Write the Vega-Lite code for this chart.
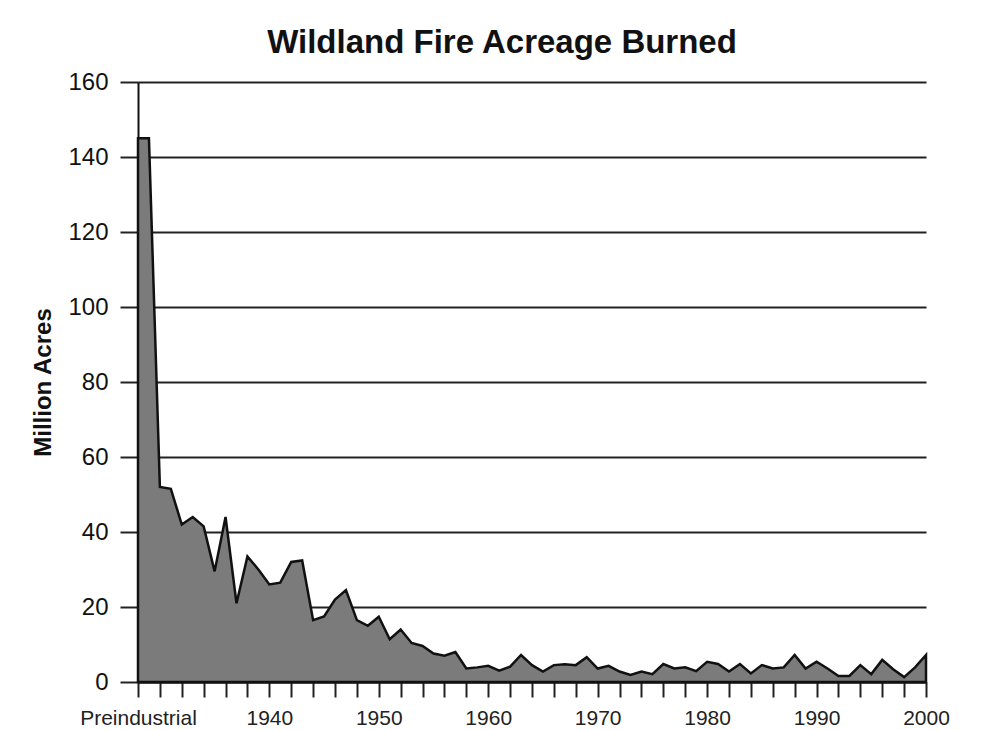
{
  "$schema": "https://vega.github.io/schema/vega-lite/v6.json",
  "width": 788,
  "height": 600,
  "autosize": "none",
  "padding": {"left": 138, "top": 82, "right": 60, "bottom": 48},
  "background": "white",
  "config": {
    "view": {"stroke": null},
    "font": "Liberation Sans"
  },
  "title": {
    "text": "Wildland Fire Acreage Burned",
    "font": "Liberation Sans",
    "fontSize": 33,
    "fontWeight": "bold",
    "color": "#111",
    "anchor": "middle",
    "dx": -30,
    "offset": 10
  },
  "data": {
    "values": [
      {"year": 1928, "acres": 145},
      {"year": 1929, "acres": 145},
      {"year": 1930, "acres": 52},
      {"year": 1931, "acres": 51.5},
      {"year": 1932, "acres": 42},
      {"year": 1933, "acres": 44},
      {"year": 1934, "acres": 41.5},
      {"year": 1935, "acres": 29.5},
      {"year": 1936, "acres": 44},
      {"year": 1937, "acres": 21},
      {"year": 1938, "acres": 33.5},
      {"year": 1939, "acres": 30},
      {"year": 1940, "acres": 26},
      {"year": 1941, "acres": 26.5},
      {"year": 1942, "acres": 32},
      {"year": 1943, "acres": 32.4},
      {"year": 1944, "acres": 16.5},
      {"year": 1945, "acres": 17.5},
      {"year": 1946, "acres": 22},
      {"year": 1947, "acres": 24.5},
      {"year": 1948, "acres": 16.5},
      {"year": 1949, "acres": 15},
      {"year": 1950, "acres": 17.4},
      {"year": 1951, "acres": 11.4},
      {"year": 1952, "acres": 14},
      {"year": 1953, "acres": 10.4},
      {"year": 1954, "acres": 9.6},
      {"year": 1955, "acres": 7.6},
      {"year": 1956, "acres": 7},
      {"year": 1957, "acres": 8},
      {"year": 1958, "acres": 3.6},
      {"year": 1959, "acres": 3.9},
      {"year": 1960, "acres": 4.3},
      {"year": 1961, "acres": 3},
      {"year": 1962, "acres": 4.1},
      {"year": 1963, "acres": 7.2},
      {"year": 1964, "acres": 4.5},
      {"year": 1965, "acres": 2.8},
      {"year": 1966, "acres": 4.5},
      {"year": 1967, "acres": 4.7},
      {"year": 1968, "acres": 4.5},
      {"year": 1969, "acres": 6.6},
      {"year": 1970, "acres": 3.6},
      {"year": 1971, "acres": 4.3},
      {"year": 1972, "acres": 2.8},
      {"year": 1973, "acres": 1.9},
      {"year": 1974, "acres": 2.8},
      {"year": 1975, "acres": 2.1},
      {"year": 1976, "acres": 4.8},
      {"year": 1977, "acres": 3.6},
      {"year": 1978, "acres": 3.9},
      {"year": 1979, "acres": 2.9},
      {"year": 1980, "acres": 5.4},
      {"year": 1981, "acres": 4.8},
      {"year": 1982, "acres": 2.8},
      {"year": 1983, "acres": 4.8},
      {"year": 1984, "acres": 2.3},
      {"year": 1985, "acres": 4.5},
      {"year": 1986, "acres": 3.6},
      {"year": 1987, "acres": 3.9},
      {"year": 1988, "acres": 7.2},
      {"year": 1989, "acres": 3.6},
      {"year": 1990, "acres": 5.4},
      {"year": 1991, "acres": 3.6},
      {"year": 1992, "acres": 1.6},
      {"year": 1993, "acres": 1.6},
      {"year": 1994, "acres": 4.5},
      {"year": 1995, "acres": 2.1},
      {"year": 1996, "acres": 5.9},
      {"year": 1997, "acres": 3.4},
      {"year": 1998, "acres": 1.3},
      {"year": 1999, "acres": 3.9},
      {"year": 2000, "acres": 7.2}
    ]
  },
  "mark": {
    "type": "area",
    "color": "#7b7b7b",
    "fillOpacity": 1,
    "stroke": "#111",
    "strokeWidth": 2.5,
    "strokeJoin": "miter"
  },
  "encoding": {
    "x": {
      "field": "year",
      "type": "quantitative",
      "scale": {"domain": [1928, 2000], "nice": false, "zero": false},
      "axis": {
        "title": null,
        "grid": false,
        "values": [1928,1930,1932,1934,1936,1938,1940,1942,1944,1946,1948,1950,1952,1954,1956,1958,1960,1962,1964,1966,1968,1970,1972,1974,1976,1978,1980,1982,1984,1986,1988,1990,1992,1994,1996,1998,2000],
        "format": "d",
        "labelExpr": "datum.value == 1928 ? 'Preindustrial' : (datum.value % 10 == 0 && datum.value >= 1940 ? datum.label : '')",
        "labelOverlap": false,
        "labelFlush": false,
        "labelFont": "Liberation Sans",
        "labelFontSize": 21,
        "labelColor": "#222",
        "labelPadding": 10,
        "tickSize": 15,
        "tickColor": "#222",
        "tickWidth": 2,
        "domainColor": "#111",
        "domainWidth": 2
      }
    },
    "y": {
      "field": "acres",
      "type": "quantitative",
      "scale": {"domain": [0, 160], "nice": false},
      "axis": {
        "title": "Million Acres",
        "titleFont": "Liberation Sans",
        "titleFontSize": 24,
        "titleFontWeight": "bold",
        "titleColor": "#111",
        "titlePadding": 12,
        "values": [0, 20, 40, 60, 80, 100, 120, 140, 160],
        "grid": true,
        "gridColor": "#222",
        "gridWidth": 2,
        "gridOpacity": 1,
        "labelFont": "Liberation Sans",
        "labelFontSize": 24,
        "labelColor": "#111",
        "labelPadding": 12,
        "tickSize": 18,
        "tickColor": "#222",
        "tickWidth": 2,
        "domainColor": "#111",
        "domainWidth": 2
      }
    }
  }
}
